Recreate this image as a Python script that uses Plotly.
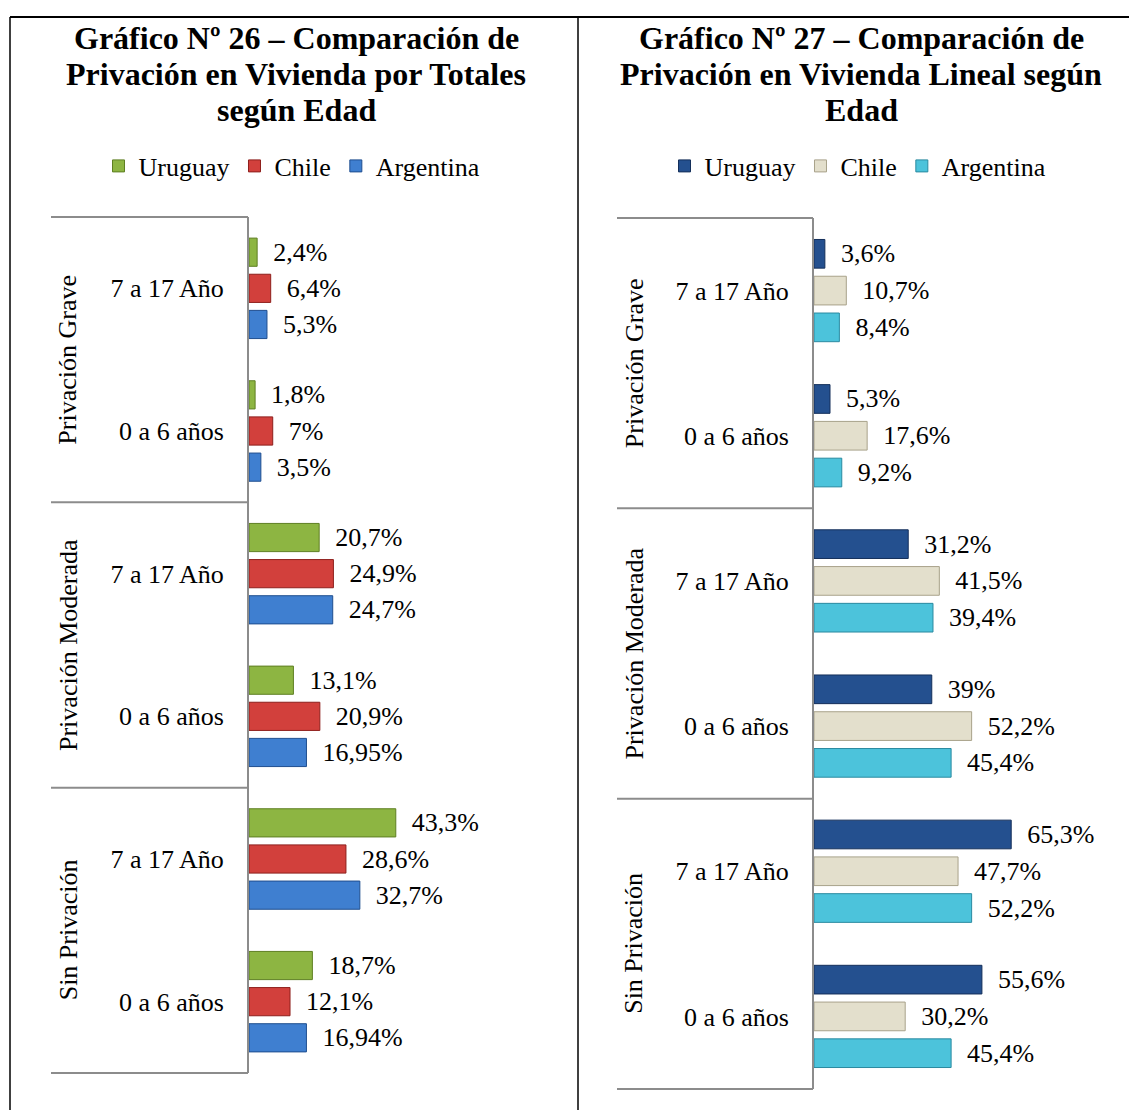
import plotly.graph_objects as go

W, H = 1129, 1110
FONT = "Liberation Serif, Times New Roman, serif"

# ---------------- data ----------------
outer_groups = ["Privación Grave", "Privación Moderada", "Sin Privación"]
age_groups = ["7 a 17 Año", "0 a 6 años"]
countries = ["Uruguay", "Chile", "Argentina"]

# Gráfico Nº 26 (por Totales) -- order: PG 7-17, PG 0-6, PM 7-17, PM 0-6, SP 7-17, SP 0-6
totales_uruguay = [2.4, 1.8, 20.7, 13.1, 43.3, 18.7]
totales_chile = [6.4, 7, 24.9, 20.9, 28.6, 12.1]
totales_argentina = [5.3, 3.5, 24.7, 16.95, 32.7, 16.94]

# Gráfico Nº 27 (Lineal)
lineal_uruguay = [3.6, 5.3, 31.2, 39, 65.3, 55.6]
lineal_chile = [10.7, 17.6, 41.5, 52.2, 47.7, 30.2]
lineal_argentina = [8.4, 9.2, 39.4, 45.4, 52.2, 45.4]

title_26 = ["Gráfico Nº 26 – Comparación de",
            "Privación en Vivienda por Totales",
            "según Edad"]
title_27 = ["Gráfico Nº 27 – Comparación de",
            "Privación en Vivienda Lineal según",
            "Edad"]

colors_26 = ["#8db542", "#d2403c", "#3f7fd0"]
edges_26 = ["#5e7f22", "#8e1f1c", "#1f4e8f"]
colors_27 = ["#24508f", "#e3dfcc", "#4cc3db"]
edges_27 = ["#142f5a", "#a8a28a", "#2a8aa0"]

# ---------------- helpers ----------------
keys = [f"{o} | {a}" for o in outer_groups for a in age_groups]
tick_text = [a for o in outer_groups for a in age_groups]


def fmt(v):
    return f"{v:g}".replace(".", ",") + "%"


def px_x(p):
    return p / W


def px_y(p):
    return 1 - p / H


fig = go.Figure()

panels = [
    dict(vals=[totales_uruguay, totales_chile, totales_argentina], colors=colors_26, edges=edges_26,
         xa="x", ya="y", leg="legend"),
    dict(vals=[lineal_uruguay, lineal_chile, lineal_argentina], colors=colors_27, edges=edges_27,
         xa="x2", ya="y2", leg="legend2"),
]

for p in panels:
    for name, vals, c, e in zip(countries, p["vals"], p["colors"], p["edges"]):
        fig.add_trace(go.Bar(
            orientation="h", x=vals, y=keys, name=name,
            marker=dict(color=c, line=dict(color=e, width=1)),
            text=[fmt(v) for v in vals],
            texttemplate="\u00a0\u00a0%{text}",
            textposition="outside", constraintext="none", cliponaxis=False,
            textfont=dict(family=FONT, size=26, color="black"),
            xaxis=p["xa"], yaxis=p["ya"], legend=p["leg"],
        ))

# axes geometry (pixels)
L_x0, L_x1, L_scale = 249, 570, 3.39
R_x0, R_x1, R_scale = 814, 1125, 3.02
L_top, L_bot = 217, 1073
R_top, R_bot = 218, 1089

yaxis_common = dict(type="category", categoryorder="array", categoryarray=keys,
                    range=[5.5, -0.5], tickvals=keys, ticktext=tick_text, ticks="",
                    showline=True, linecolor="#8c8c8c", linewidth=2, showgrid=False,
                    zeroline=False, tickfont=dict(family=FONT, size=26, color="black"))

fig.update_layout(
    width=W, height=H, margin=dict(l=0, r=0, t=0, b=0),
    paper_bgcolor="white", plot_bgcolor="rgba(0,0,0,0)",
    barmode="group", bargap=0.24, bargroupgap=0.22,
    font=dict(family=FONT, size=26, color="black"),
    xaxis=dict(domain=[px_x(L_x0), px_x(L_x1)], range=[0, (L_x1 - L_x0) / L_scale],
               visible=False, anchor="y"),
    yaxis=dict(domain=[px_y(L_bot), px_y(L_top)], anchor="x", ticklabelstandoff=18, **yaxis_common),
    xaxis2=dict(domain=[px_x(R_x0), px_x(R_x1)], range=[0, (R_x1 - R_x0) / R_scale],
                visible=False, anchor="y2"),
    yaxis2=dict(domain=[px_y(R_bot), px_y(R_top)], anchor="x2", ticklabelstandoff=18, **yaxis_common),
    legend=dict(x=px_x(292), y=px_y(166), xanchor="center", yanchor="middle",
                orientation="h", itemwidth=30, font=dict(family=FONT, size=26, color="black"),
                bgcolor="rgba(0,0,0,0)"),
    legend2=dict(x=px_x(858), y=px_y(166), xanchor="center", yanchor="middle",
                 orientation="h", itemwidth=30, font=dict(family=FONT, size=26, color="black"),
                 bgcolor="rgba(0,0,0,0)"),
)

annotations = []
for lines, cx in ((title_26, 296), (title_27, 861)):
    for i, line in enumerate(lines):
        annotations.append(dict(text=f"<b>{line}</b>", xref="paper", yref="paper",
                                x=px_x(cx), y=px_y(38 + 36 * i), xanchor="center", yanchor="middle",
                                showarrow=False, font=dict(family=FONT, size=32, color="black")))

for yref, cx in (("y domain", 68), ("y2 domain", 634)):
    for i, g in enumerate(outer_groups):
        annotations.append(dict(text=g, xref="paper", yref=yref, x=px_x(cx), y=1 - (2 * i + 1) / 6,
                                xanchor="center", yanchor="middle", textangle=-90, showarrow=False,
                                font=dict(family=FONT, size=26, color="black")))
fig.update_layout(annotations=annotations)

shapes = [
    dict(type="line", xref="paper", yref="paper", x0=px_x(10), x1=1, y0=px_y(17), y1=px_y(17),
         line=dict(color="black", width=2)),
    dict(type="line", xref="paper", yref="paper", x0=px_x(10), x1=px_x(10), y0=0, y1=px_y(17),
         line=dict(color="black", width=1.5)),
    dict(type="line", xref="paper", yref="paper", x0=px_x(578), x1=px_x(578), y0=0, y1=px_y(17),
         line=dict(color="black", width=1.5)),
]
for yref, x0, x1 in (("y domain", 51, 248), ("y2 domain", 617, 813)):
    for k in range(4):
        shapes.append(dict(type="line", xref="paper", yref=yref, x0=px_x(x0), x1=px_x(x1),
                           y0=k / 3, y1=k / 3, line=dict(color="#8c8c8c", width=2)))
fig.update_layout(shapes=shapes)

fig.write_html("out.html")
